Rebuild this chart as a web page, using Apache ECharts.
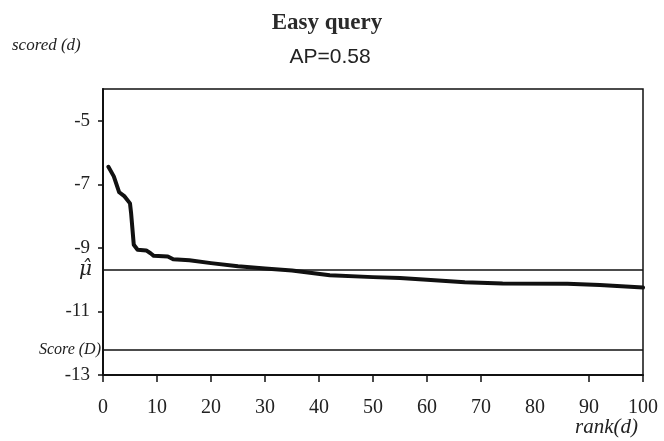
<!DOCTYPE html>
<html>
<head>
<meta charset="utf-8">
<script src="https://cdn.jsdelivr.net/npm/echarts@6/dist/echarts.min.js"></script>
<style>
  html, body { margin: 0; padding: 0; background: #fff; }
  #chart { width: 664px; height: 441px; }
</style>
</head>
<body>
<div id="chart"></div>
<script type="text/javascript">

    // rank(d) and scored(d)
    var ranks = [1, 2, 3, 4, 5, 5.2, 5.7, 6.4, 8, 8.8, 9.4, 12, 13, 16, 20, 25, 30, 35, 42, 50, 55, 60, 67, 74, 86, 92, 100];
    var scores = [-6.45, -6.75, -7.25, -7.38, -7.6, -7.9, -8.9, -9.06, -9.08, -9.17, -9.25, -9.27, -9.36, -9.39, -9.48, -9.58, -9.65, -9.71, -9.86, -9.92, -9.95, -10.0, -10.08, -10.12, -10.13, -10.17, -10.25];

    var muHat = -9.69;
    var scoreD = -12.2;

    var yTicks = [-13, -11, -9, -7, -5];
    var xLabels = [0, 10, 20, 30, 40, 50, 60, 70, 80, 90, 100];
    var xTickMarks = [0, 10, 20, 30, 40, 50, 60, 70, 90, 100];

    var serif = '"Liberation Serif", "DejaVu Serif", serif';
    var sans = '"Liberation Sans", Arial, sans-serif';

    var pts = [];
    for (var i = 0; i < ranks.length; i++) {
        pts.push([ranks[i], scores[i]]);
    }

    var myChart = echarts.init(document.getElementById('chart'));
    var option = {
        animation: false,
        backgroundColor: '#fff',
        title: [{
            text: 'Easy query',
            left: 322,
            top: 7,
            textAlign: 'center',
            textStyle: {fontFamily: serif, fontWeight: 'bold', fontSize: 23, color: '#2a2a2a'}
        }, {
            text: 'AP=0.58',
            left: 325,
            top: 42,
            textAlign: 'center',
            textStyle: {fontFamily: sans, fontWeight: 'normal', fontSize: 21, color: '#222'}
        }],
        graphic: [{
            type: 'text',
            left: 12,
            top: 37,
            style: {text: 'scored (d)', font: 'italic 17px ' + serif, fill: '#222'}
        }, {
            type: 'text',
            right: 26,
            top: 417,
            style: {text: 'rank(d)', font: 'italic 21px ' + serif, fill: '#222'}
        }],
        grid: {
            left: 103,
            right: 21,
            top: 89,
            bottom: 66,
            show: true,
            borderColor: '#111',
            borderWidth: 1.5
        },
        xAxis: {
            type: 'value',
            min: 0,
            max: 100,
            interval: 10,
            axisLine: {lineStyle: {color: '#111', width: 2}},
            axisTick: {show: true, length: 7, customValues: xTickMarks, lineStyle: {color: '#111', width: 1.5}},
            axisLabel: {customValues: xLabels, margin: 23, fontFamily: serif, fontSize: 20, color: '#222'},
            splitLine: {show: false}
        },
        yAxis: {
            type: 'value',
            min: -13,
            max: -4,
            interval: 2,
            axisLine: {show: true, lineStyle: {color: '#111', width: 2}},
            axisTick: {show: true, length: 5, customValues: yTicks, lineStyle: {color: '#111', width: 1.5}},
            axisLabel: {customValues: yTicks, margin: 13, fontFamily: serif, fontSize: 19, color: '#222'},
            splitLine: {show: false}
        },
        series: [{
            type: 'line',
            data: pts,
            showSymbol: false,
            lineStyle: {color: '#111', width: 4, join: 'round', cap: 'round'},
            markLine: {
                silent: true,
                symbol: 'none',
                animation: false,
                lineStyle: {color: '#111', width: 1.5, type: 'solid'},
                label: {show: true, position: 'start', distance: 4, color: '#222'},
                data: [
                    {yAxis: muHat, label: {formatter: 'μ\u0302', fontFamily: '"DejaVu Serif", serif', fontStyle: 'italic', fontSize: 20, distance: 11}},
                    {yAxis: scoreD, label: {formatter: 'Score (D)', fontFamily: serif, fontStyle: 'italic', fontSize: 16, distance: 2}}
                ]
            }
        }]
    };
    myChart.setOption(option);
</script>
</body>
</html>
